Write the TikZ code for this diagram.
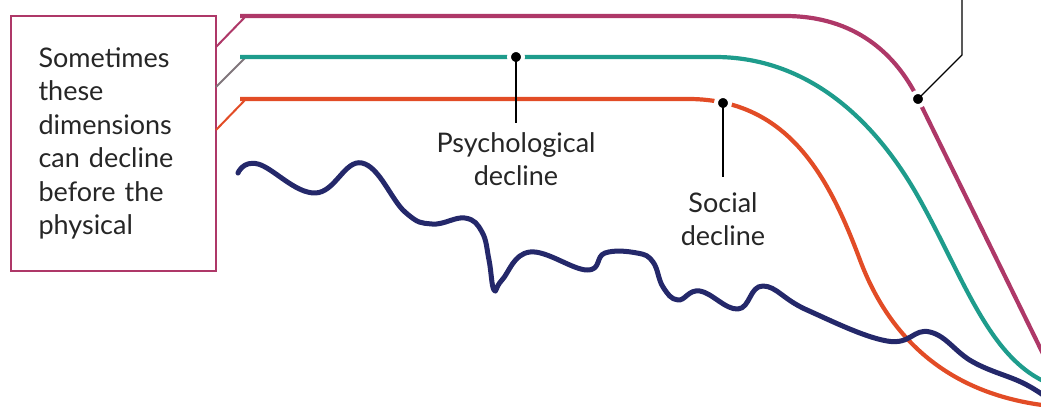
\documentclass[tikz,border=0pt]{standalone}
\usepackage{fontspec}
\setmainfont{Lato}
\usetikzlibrary{positioning}
\definecolor{berry}{RGB}{174,56,104}
\definecolor{sea}{RGB}{30,156,140}
\definecolor{rust}{RGB}{226,76,38}
\definecolor{ink}{RGB}{36,40,106}
\definecolor{mixlead}{RGB}{128,118,124}
\begin{document}
\begin{tikzpicture}[
  x=1pt,
  y=-1pt,
  curve/.style={line width=4.2pt,line cap=butt},
  leader/.style={draw=black,line width=1.3pt},
  dot/.style={circle,fill=black,draw=white,line width=4pt,inner sep=0pt,minimum size=14pt},
  caption/.style={font=\fontsize{27}{33}\selectfont,align=center,inner sep=0pt,text=black!85},
  notebox/.style={draw=berry,line width=2pt,minimum width=205pt,minimum height=255pt,
    text width=150pt,align=left,inner sep=0pt,font=\fontsize{27}{33.5}\selectfont,text=black!85}
]
  \useasboundingbox (0,0) rectangle (1041,407);
  \begin{scope}
  \clip (0,0) rectangle (1041,407);

  \node[notebox] (note) at (113.5,143.5) {Sometimes\\these\\dimensions\\can decline\\before the\\physical};

  \coordinate (n1) at (216,47);
  \coordinate (n2) at (216,87);
  \coordinate (n3) at (216,130);
  \coordinate (s1) at (246,16);
  \coordinate (s2) at (246,57);
  \coordinate (s3) at (246,99);

  \draw[berry,line width=2pt] (n1) -- (s1);
  \draw[mixlead,line width=2pt] (n2) -- (s2);
  \draw[rust,line width=2pt] (n3) -- (s3);

  \draw[curve,berry] (240,16) -- (785,16) .. controls (855,16) and (896,54) .. (918,99) -- (1050,368);
  \draw[curve,sea] (240,57) -- (715,57) .. controls (800,57) and (870,110) .. (920,200)
    .. controls (965,281) and (990,360) .. (1050,384);
  \draw[curve,rust] (240,99) -- (690,99) .. controls (790,100) and (830,180) .. (860,260)
    .. controls (890,340) and (950,395) .. (1050,406);
  \draw[ink,line width=5pt,line cap=round,line join=round] plot[smooth,tension=0.7] coordinates {
    (238,173) (258,164) (315,193) (362,163) (405,212) (432,224) (465,218) (482,232)
    (489,260) (494,290) (502,280) (530,252) (587,270) (605,253) (637,253) (653,262)
    (663,287) (678,300) (700,291) (738,309) (763,286) (807,310) (887,341) (930,332)
    (973,362) (1023,383) (1050,400)};

  \node[dot] (psydot) at (516,57) {};
  \node[dot] (socdot) at (723,103) {};
  \node[dot] (phydot) at (918,99) {};

  \node[caption,below=75pt of psydot.center] (psylabel) {Psychological\\decline};
  \node[caption,below=89pt of socdot.center] (soclabel) {Social\\decline};
  \coordinate (bend) at (962,55);
  \coordinate (topend) at (962,-5);

  \draw[leader] (psydot.center) -- ++(0,66);
  \draw[leader] (socdot.center) -- ++(0,74);
  \draw[leader] (phydot.center) -- (bend) -- (topend);
  \end{scope}
\end{tikzpicture}
\end{document}
